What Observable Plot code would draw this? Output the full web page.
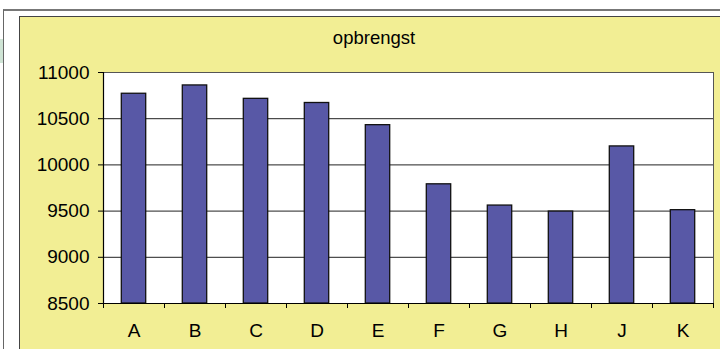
<!DOCTYPE html>
<html>
<head>
<meta charset="utf-8">
<script src="https://cdn.jsdelivr.net/npm/d3@7"></script>
<script src="https://cdn.jsdelivr.net/npm/@observablehq/plot@0.6"></script>
<style>
  html, body { margin: 0; padding: 0; background: #fff; }
  body { width: 720px; height: 349px; position: relative; overflow: hidden; font-family: "Liberation Sans", Arial, sans-serif; }
  #outer { position: absolute; left: 3px; top: 9px; width: 730px; height: 350px; border-top: 2px solid #777; border-left: 1px solid #666; }
  #green { position: absolute; left: 0; top: 39px; width: 3px; height: 24px; background: #cfe4d5; }
  #panel { position: absolute; left: 19px; top: 16px; width: 710px; height: 340px; background: #f2ee94; border-top: 1.5px solid #444; border-left: 1.5px solid #444; box-sizing: border-box; }
  #title { position: absolute; left: 374px; top: 29px; transform: translateX(-50%); font-size: 18.5px; line-height: 18px; color: #000; white-space: nowrap; }
  #chart { position: absolute; left: 0; top: 0; }
</style>
</head>
<body>
<div id="outer"></div>
<div id="green"></div>
<div id="panel"></div>
<div id="title">opbrengst</div>
<div id="chart"></div>
<script>
const categories = ["A", "B", "C", "D", "E", "F", "G", "H", "J", "K"];
const values = [10770, 10860, 10715, 10670, 10430, 9790, 9560, 9495, 10200, 9510];
const yTicks = [8500, 9000, 9500, 10000, 10500, 11000];

const data = categories.map((c, i) => ({category: c, value: values[i]}));

const chart = Plot.plot({
  width: 720,
  height: 349,
  marginLeft: 103,
  marginRight: 7,
  marginTop: 72,
  marginBottom: 46,
  style: {background: "transparent", fontFamily: "'Liberation Sans', Arial, sans-serif", fontSize: "19px", color: "#000", overflow: "visible"},
  x: {type: "linear", domain: [0, categories.length]},
  y: {domain: [yTicks[0], yTicks[yTicks.length - 1]]},
  marks: [
    Plot.frame({fill: "white", stroke: "#555", strokeWidth: 1}),
    Plot.ruleY(yTicks.slice(1, -1), {stroke: "#222", strokeWidth: 1}),
    Plot.rectY(data, {
      x1: (d, i) => i + 0.3,
      x2: (d, i) => i + 0.7,
      y1: yTicks[0],
      y2: "value",
      fill: "#5858a6",
      stroke: "#111",
      strokeWidth: 1.3
    }),
    Plot.ruleY([yTicks[0]], {stroke: "#000", strokeWidth: 1.2}),
    Plot.ruleX([0], {stroke: "#000", strokeWidth: 1.2}),
    Plot.axisY({ticks: yTicks, tickSize: 5, tickPadding: 9, tickFormat: d3.format("d"), fontSize: 19, label: null, stroke: "#000"}),
    Plot.axisX({ticks: d3.range(categories.length + 1), tickSize: 5, tickFormat: () => "", label: null, stroke: "#000"}),
    Plot.axisX({ticks: d3.range(categories.length).map(i => i + 0.5), tickSize: 0, tickPadding: 20, tickFormat: v => categories[Math.floor(v)], fontSize: 19, label: null})
  ]
});
document.getElementById("chart").appendChild(chart);
</script>
</body>
</html>
